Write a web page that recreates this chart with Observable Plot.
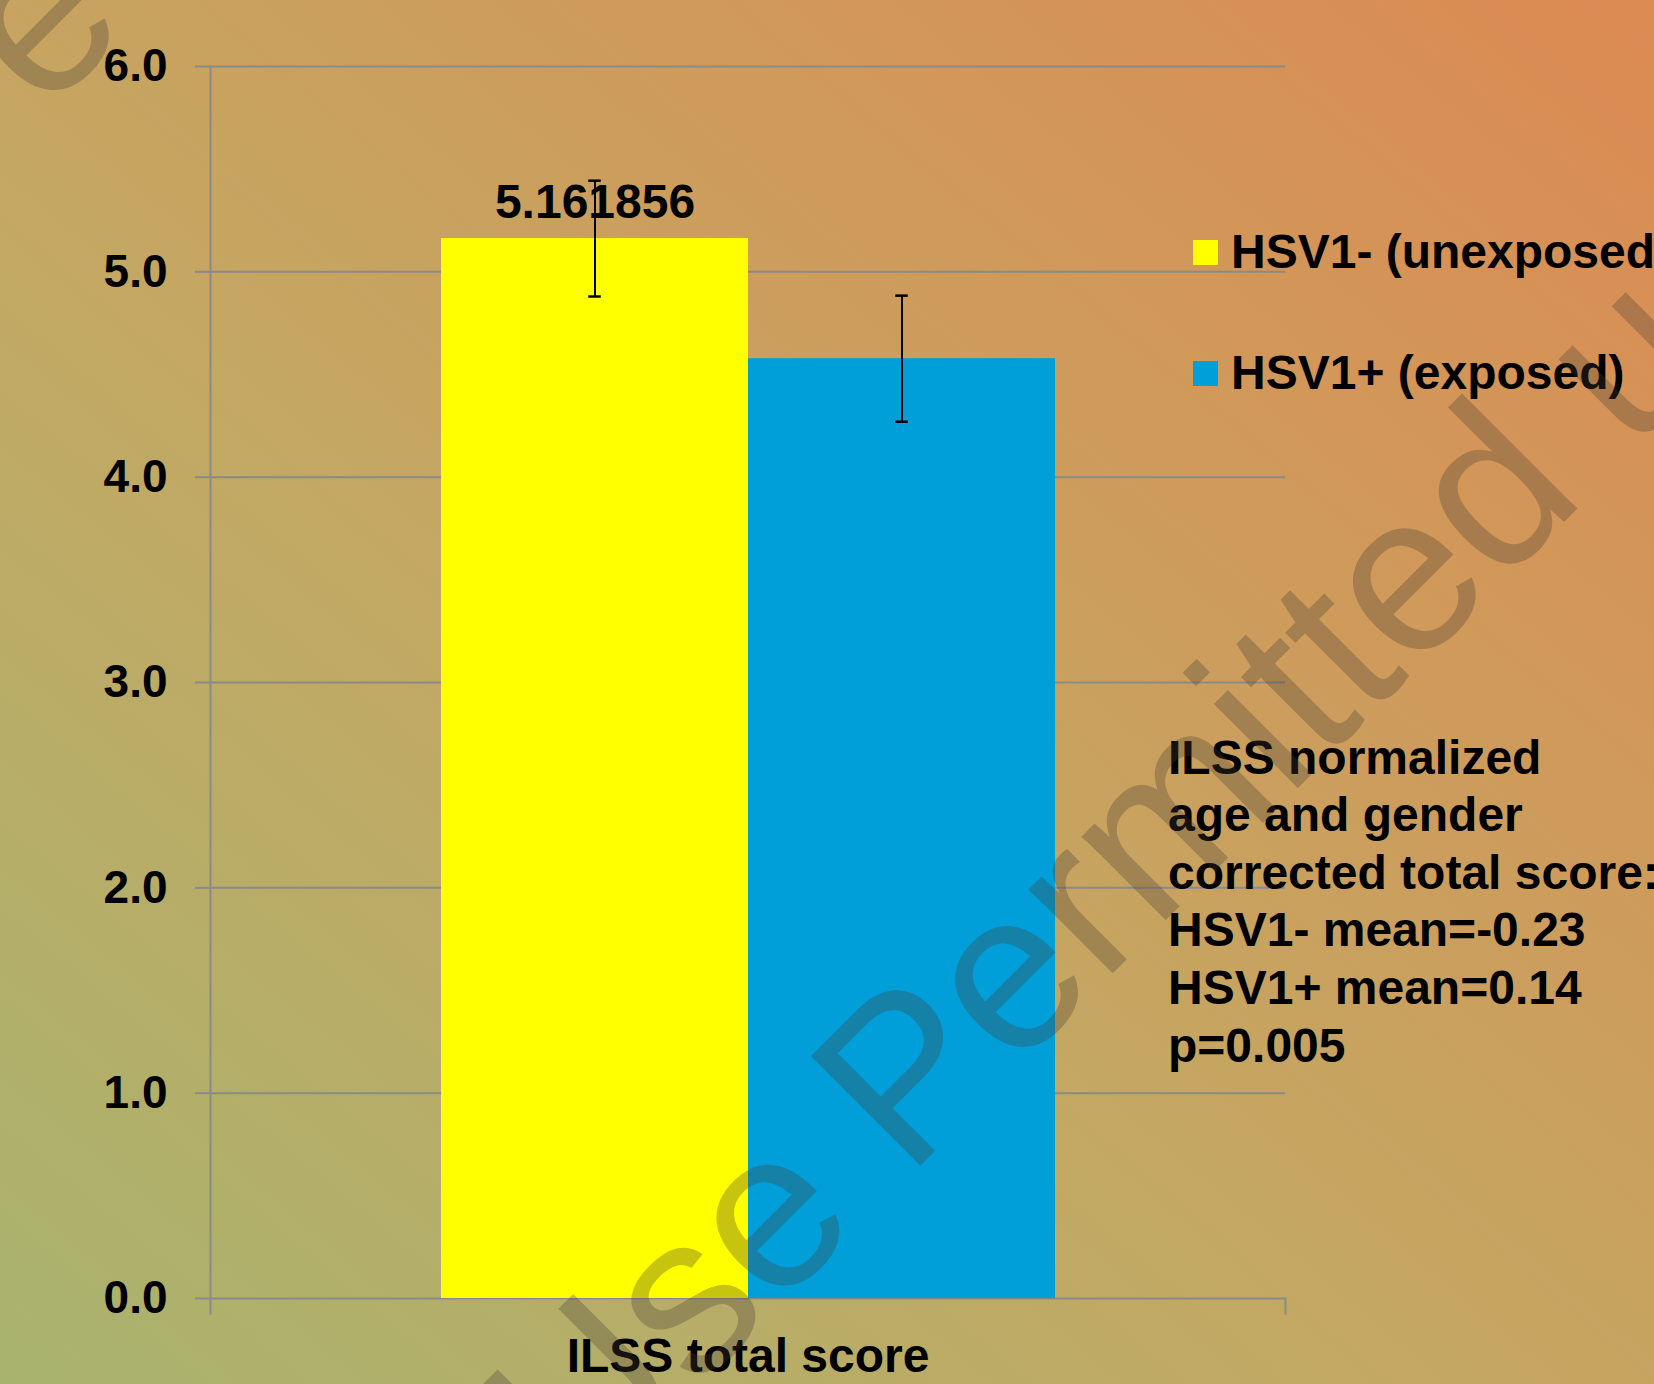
<!DOCTYPE html>
<html><head><meta charset="utf-8">
<script src="https://cdn.jsdelivr.net/npm/d3@7"></script>
<script src="https://cdn.jsdelivr.net/npm/@observablehq/plot@0.6"></script>
<style>
html,body{margin:0;padding:0;}
body{width:1654px;height:1384px;overflow:hidden;position:relative;
  background:linear-gradient(to top right,#a8b36e 0%,#c3a863 42%,#d0995a 72%,#dc8a52 100%);
  font-family:"Liberation Sans",Arial,sans-serif;}
#chart{position:absolute;left:0;top:0;}
.lg{position:absolute;left:1193px;white-space:nowrap;font-size:48px;font-weight:bold;line-height:48px;color:#000;}
.lg .sw{position:absolute;left:0;width:25px;height:25px;}
.lg .tx{position:absolute;left:38px;top:0;}
#note{position:absolute;left:1168px;top:728.6px;font-size:48px;font-weight:bold;line-height:57.6px;white-space:nowrap;color:#000;}
#wm{position:absolute;left:0;top:0;pointer-events:none;}
</style></head><body>
<div id="chart"></div>
<div id="legend"></div>
<div id="note"></div>
<svg id="wm" width="1654" height="1384"></svg>
<script>
const group = "ILSS total score";
const series = ["HSV1- (unexposed)", "HSV1+ (exposed)"];
const values = [5.161856, 4.577];
const errors = [0.282, 0.307];
const colors = ["#ffff00", "#009fd9"];
const valueLabels = ["5.161856", null];
const yTicks = [0, 1, 2, 3, 4, 5, 6];
const noteLines = ["ILSS normalized", "age and gender", "corrected total score:", "HSV1- mean=-0.23", "HSV1+ mean=0.14", "p=0.005"];
const watermarkTexts = ["Use Permitted u", "e"];

const W = 1654, H = 1384, ml = 210, mr = 369, mt = 66, mb = 86;
const data = series.map((s, i) => ({series: s, value: values[i], err: errors[i], label: valueLabels[i]}));
const innerW = W - ml - mr;
const po = 0.748;
const step = innerW / (series.length + 2 * po);
const capW = 13;
const capInset = (step - capW) / 2;
const grid = "#8a8a8a";

const chart = Plot.plot({
  width: W, height: H, marginLeft: ml, marginRight: mr, marginTop: mt, marginBottom: mb,
  style: {background: "transparent", color: "black", fontFamily: "Liberation Sans, Arial, sans-serif", overflow: "visible"},
  x: {type: "band", domain: series, paddingInner: 0, paddingOuter: po, axis: null},
  y: {domain: [0, 6], axis: null},
  color: {domain: series, range: colors},
  marks: [
    Plot.gridY(yTicks, {stroke: grid, strokeOpacity: 1, strokeWidth: 2}),
    Plot.axisY({ticks: yTicks, tickFormat: d3.format(".1f"), tickSize: 15, tickPadding: 28, stroke: grid, strokeWidth: 2, color: "black", fontSize: 46, fontWeight: "bold", label: null}),
    Plot.frame({anchor: "left", stroke: grid, strokeWidth: 2, insetBottom: -15}),
    Plot.frame({anchor: "right", stroke: grid, strokeWidth: 2, insetTop: H - mt - mb, insetBottom: -15}),
    Plot.barY(data, {x: "series", y: "value", fill: "series"}),
    Plot.ruleX(data, {x: "series", y1: d => d.value - d.err, y2: d => d.value + d.err, stroke: "black", strokeWidth: 2}),
    Plot.tickY(data, {x: "series", y: d => d.value + d.err, insetLeft: capInset, insetRight: capInset, stroke: "black", strokeWidth: 2.5}),
    Plot.tickY(data, {x: "series", y: d => d.value - d.err, insetLeft: capInset, insetRight: capInset, stroke: "black", strokeWidth: 2.5}),
    Plot.text(data.filter(d => d.label), {x: "series", y: "value", text: "label", lineAnchor: "bottom", dy: -21, fontSize: 48, fontWeight: "bold", fill: "black"}),
    Plot.text([group], {frameAnchor: "bottom", text: d => d, lineAnchor: "bottom", dy: 73, fontSize: 48, fontWeight: "bold", fill: "black"})
  ]
});
document.getElementById("chart").appendChild(chart);

// legend
const lg = document.getElementById("legend");
series.forEach((s, i) => {
  const d = document.createElement("div");
  d.className = "lg";
  d.style.top = (228.4 + i * 121) + "px";
  d.innerHTML = `<span class="sw" style="background:${colors[i]};top:11.6px"></span><span class="tx"></span>`;
  d.querySelector(".tx").textContent = s;
  lg.appendChild(d);
});

// note
document.getElementById("note").innerHTML = noteLines.map(t => `<div>${t}</div>`).join("");

// watermark
const wm = d3.select("#wm");
const wmPos = [[580, 1506], [44, 116]];
watermarkTexts.forEach((t, i) => {
  wm.append("text")
    .attr("transform", `translate(${wmPos[i][0]},${wmPos[i][1]}) rotate(-45)`)
    .attr("font-family", "Liberation Sans, Arial, sans-serif")
    .attr("font-size", 225)
    .attr("fill", "rgb(70,60,50)")
    .attr("fill-opacity", 0.3)
    .text(t);
});
</script>
</body></html>
